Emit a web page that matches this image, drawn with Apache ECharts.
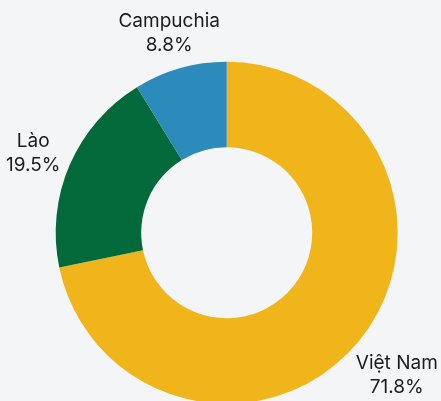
<!DOCTYPE html>
<html>
<head>
<meta charset="utf-8">
<script src="https://cdn.jsdelivr.net/npm/echarts@6/dist/echarts.min.js"></script>
<style>
html,body{margin:0;padding:0;background:#f4f5f7;}
#chart{width:441px;height:401px;}
</style>
</head>
<body>
<div id="chart"></div>
<script>
const categories = ['Việt Nam', 'Lào', 'Campuchia'];
const shares = [71.8, 19.5, 8.8];
const colors = ['#f0b51b', '#02693a', '#2d8bbb'];

const data = categories.map((name, i) => ({ name: name, value: shares[i] }));

const CX = 226.7, CY = 232.7, R_OUT = 171, R_IN = 85.5, LABEL_GAP = 184;
const FONT_BASELINE_SHIFT = 4;

const chart = echarts.init(document.getElementById('chart'));
chart.setOption({
  backgroundColor: '#f4f5f7',
  animation: false,
  color: colors,
  series: [
    {
      type: 'pie',
      center: [CX, CY],
      radius: [R_IN, R_OUT],
      startAngle: 90,
      clockwise: true,
      avoidLabelOverlap: false,
      label: { show: false },
      labelLine: { show: false },
      itemStyle: { borderWidth: 0 },
      data: data
    },
    {
      type: 'pie',
      silent: true,
      center: [CX, CY],
      radius: [198, 228],
      startAngle: 90,
      clockwise: true,
      avoidLabelOverlap: false,
      itemStyle: { color: 'rgba(0,0,0,0)' },
      labelLine: { show: false },
      label: {
        show: true,
        position: 'inside',
        color: '#1c1c1c',
        fontFamily: 'Inter',
        fontSize: 19,
        lineHeight: 24,
        align: 'center',
        formatter: p => p.name + '\n' + p.value.toFixed(1) + '%'
      },
      labelLayout: function (params) {
        const r = params.labelRect;
        const mx = r.x + r.width / 2, my = r.y + r.height / 2;
        const dx = mx - CX, dy = my - CY;
        const len = Math.sqrt(dx * dx + dy * dy);
        const ux = dx / len, uy = dy / len;
        const ext = Math.sqrt(Math.pow(r.width / 2 * ux, 2) + Math.pow(r.height / 2 * uy, 2));
        const d = LABEL_GAP + ext;
        return { x: CX + ux * d, y: CY + uy * d + FONT_BASELINE_SHIFT };
      },
      data: data
    }
  ]
});
</script>
</body>
</html>
